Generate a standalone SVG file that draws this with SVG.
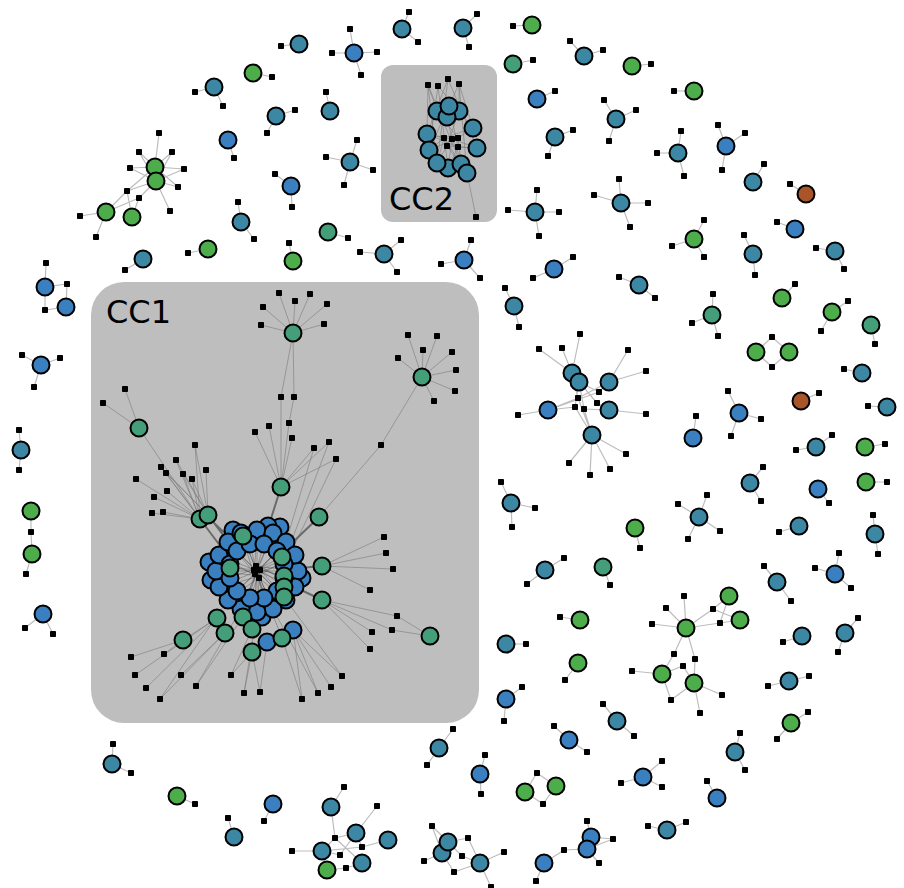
<svg xmlns="http://www.w3.org/2000/svg" xmlns:xlink="http://www.w3.org/1999/xlink" width="904" height="888" viewBox="0 0 904 888">
<style>
circle{stroke:#000;stroke-width:2}
.t{fill:#3c87a3}.b{fill:#3a7fbf}.g{fill:#4cad4a}.gt{fill:#449e79}.o{fill:#a8552a}
.e{fill:none;stroke:#bdbdbd;stroke-width:1.2}
.ei{fill:none;stroke:#7a7a7a;stroke-width:0.6}
.ek{fill:none;stroke:#6a6a6a;stroke-width:2}
.ec{fill:none;stroke:#333;stroke-width:0.35}
.box{fill:#bebebe}
.lbl{font-family:"DejaVu Sans",sans-serif;font-size:32px;fill:#000}
</style>
<defs><rect id="q" x="-3" y="-3" width="6" height="6" rx="0.8" fill="#000"/></defs>
<rect width="904" height="888" fill="#fff"/>
<g id="groups">
<rect class="box" x="91" y="282" width="388" height="441" rx="33"/>
<rect class="box" x="381" y="65" width="116" height="157" rx="12"/>
</g>
<g id="connectors">
<path class="e" d="M299,44L281,46M253,73L272,77M214,87L195,92M214,87L223,106M276,116L295,110M276,116L267,133M228,140L234,158M291,186L275,174M291,186L292,207M241,222L238,202M241,222L254,239"/>
<path class="e" d="M155,167L159,133M155,167L139,152M155,167L172,152M155,167L130,168M155,167L184,169M155,167L178,187M156,181L139,152M156,181L172,152M156,181L130,168M156,181L184,169M156,181L178,187M156,181L170,211M156,181L127,191M156,181L139,198M155,167L127,191M127,191L106,212M139,198L106,212M139,198L132,217M127,191L132,217M106,212L80,216M106,212L96,237"/>
<path class="e" d="M45,287L46,263M45,287L67,284L66,307M45,287L45,310L66,307M143,259L125,270M208,249L188,253M293,261L289,243M41,365L22,355M41,365L60,358M41,365L34,387M21,450L19,430M21,450L19,470M31,511L31,532L32,554L26,574M43,614L25,628M43,614L53,634M112,764L113,744M112,764L131,773M177,796L195,804M234,837L228,818M273,804L264,821"/>
<path class="e" d="M331,807L344,787M331,807L335,838M356,833L377,806M335,838L322,851M335,838L362,863M335,838L356,833M362,847L322,851M362,847L388,840M362,847L356,833M340,855L322,851M340,855L356,833M346,868L327,870M346,868L362,863M292,851L322,851M327,870L322,851"/>
<path class="e" d="M432,826L448,842M432,826L442,853M468,838L448,842M468,838L480,863M424,861L442,853M462,856L448,842M462,856L480,863M454,872L442,853M454,872L480,863M504,852L480,863M491,887L480,863"/>
<path class="e" d="M544,863L536,881M544,863L564,850L587,849M591,837L587,821M587,849L599,863M591,837L613,839M587,849L613,839"/>
<path class="e" d="M439,748L453,729M439,748L427,765M480,774L485,755M480,774L481,794M506,699L522,687M506,699L504,721M525,792L537,773L556,786L543,804L525,792M569,740L554,726M569,740L587,752M578,663L565,680M506,644L526,644M580,620L560,617M545,570L564,558M545,570L527,584M603,567L610,585M511,503L501,482M511,503L535,508M511,503L512,527M635,528L640,548M699,517L678,504M699,517L707,495M699,517L720,531M699,517L688,539M750,483L763,467M750,483L761,501M818,489L829,503M866,482L887,482M799,526L779,532M875,534L873,515M875,534L878,554M777,582L764,566M777,582L791,601M835,574L839,553M835,574L815,568M835,574L851,588"/>
<path class="e" d="M686,628L684,596M686,628L666,608M686,628L652,624M686,628L713,609L729,596M686,628L720,623L740,620M713,609L740,620M720,623L729,596M686,628L674,654L662,674M686,628L695,659L694,683M662,674L632,671M662,674L683,666L694,683M662,674L671,700L694,683M694,683L722,695M694,683L700,713"/>
<path class="e" d="M802,636L783,642M845,633L858,618M845,633L838,652M789,681L768,686M789,681L809,676M791,723L808,712M791,723L777,739M617,721L603,704M617,721L634,736M735,752L740,733M735,752L745,770M643,777L662,761M643,777L621,783M643,777L662,787M717,798L707,781M667,830L648,826M667,830L686,822"/>
<path class="e" d="M693,438L696,416M739,413L728,391M739,413L761,419M739,413L731,436M816,447L796,450M816,447L832,435M865,447L885,444M887,407L868,406M801,401L819,393M862,373L844,369M756,352L772,337L789,352L772,367L756,352M871,325L875,344M832,312L848,301M832,312L821,331M782,298L795,284M712,315L713,294M712,315L692,323M712,315L718,336M639,285L619,277M639,285L655,298M694,239L672,246M694,239L704,257M694,239L704,220M753,254L744,235M753,254L755,275M795,229L777,222M835,251L816,248M835,251L844,269"/>
<path class="e" d="M753,182L764,164M806,194L790,184M726,146L718,125M726,146L745,133M726,146L722,170M678,153L681,131M678,153L657,153M678,153L684,176M616,119L604,100M616,119L636,110M616,119L609,141M621,203L619,179M621,203L648,203M621,203L594,195M621,203L630,227M632,66L651,64M694,91L674,91M584,56L570,41M584,56L603,50M537,99L555,91M555,137L573,130M555,137L548,156M535,212L537,190M535,212L508,210M535,212L559,212M535,212L539,236M532,25L513,26M513,64L533,60M463,28L477,14M463,28L469,47M402,29L409,12M402,29L418,42M354,53L350,29M354,53L332,53M354,53L377,52M354,53L361,75M330,111L326,92M350,162L357,140M350,162L326,157M350,162L373,170M350,162L344,185M328,232L348,238M384,254L360,252M384,254L401,240M384,254L397,272M464,260L471,240M464,260L441,264M464,260L480,278M554,269L573,257M554,269L533,278M514,306L505,288M514,306L519,327"/>
<path class="e" d="M572,373L539,349M572,373L562,348M572,373L580,334M548,410L518,415M548,410L578,398M548,410L575,407M548,410L599,392M572,373L578,398M579,382L575,407M579,382L584,409M579,382L597,403M579,382L599,392M609,382L578,398M609,382L599,392M609,410L597,403M609,410L584,409M609,382L628,350M609,382L646,371M609,410L646,414M592,435L575,407M592,435L584,409M592,435L578,398M592,435L569,463M592,435L590,475M592,435L610,469M592,435L626,454"/>
<path class="ei" d="M428,85L427,134M428,85L437,163M428,85L461,164M438,86L429,150M438,86L448,168M438,86L473,128M448,79L437,163M448,79L477,148M448,79L427,134M459,84L467,173M459,84L429,150M459,84L473,128M428,85L437,111M459,84L459,111M444,138L427,134M444,138L429,150M444,138L437,163M444,138L473,128M452,139L447,117M452,139L448,168M452,139L477,148M452,139L427,134M458,138L473,128M458,138L461,164M458,138L429,150M458,138L437,111M447,146L437,163M447,146L467,173M447,146L477,148M447,146L459,111M458,147L448,168M458,147L427,134M458,147L449,106M458,147L477,148M444,138L461,164M452,139L467,173M467,173L476,217"/>
<path class="ei" d="M293,333L279,293M293,333L295,301M293,333L310,294M293,333L327,304M293,333L324,324M293,333L263,307M293,333L261,325M293,333L281,397M293,333L294,397M281,397L281,487M294,397L289,423M281,487L289,423M281,487L269,426M281,487L255,432M281,487L292,438M281,487L314,448M281,487L329,442M281,487L336,459M314,448L286,542M329,442L290,545M336,459L293,548"/>
<path class="ei" d="M422,377L408,335M422,377L437,336M422,377L423,350M422,377L398,358M422,377L452,352M422,377L456,370M422,377L455,391M422,377L434,401M422,377L381,445L319,517"/>
<path class="ei" d="M139,428L125,389M139,428L103,403M139,428L200,519M200,519L195,445M200,519L176,460M200,519L161,467M200,519L166,473M200,519L183,474M208,515L206,470M200,519L192,479M200,519L136,479M200,519L167,491M200,519L154,497M200,519L152,513M200,519L163,512M208,515L195,445M208,515L176,460M208,515L161,467M208,515L183,474M208,515L192,479M208,515L166,473"/>
<path class="ei" d="M322,566L384,537M322,566L386,553M322,566L393,569M322,566L370,590M322,600L397,616M322,600L372,632M322,600L392,630M322,600L370,649M430,636L392,630M430,636L397,616M183,640L131,657M183,640L164,654M183,640L217,618M217,618L135,675M217,618L146,688M225,633L160,699M225,633L181,675M243,617L196,686M252,652L231,675M252,652L244,693M252,652L260,692M293,630L302,699M293,630L318,693M293,630L331,687M293,630L342,676M282,638L302,699M267,642L260,692M252,629L231,675M241,609L196,686M228,600L160,699M273,609L318,693M286,600L342,676M257,612L244,693"/>
<path class="ek" d="M281,487L268,528M319,517L291,544M208,515L229,543M200,519L221,547M322,566L300,568M322,600L299,589M214,523L232,540"/>
<path class="ec" d="M298,571L257,571M295,587L257,571M286,600L257,571M273,609L257,571M257,612L257,571M241,609L257,571M228,600L257,571M219,587L257,571M216,571L257,571M219,555L257,571M228,542L257,571M241,533L257,571M257,530L257,571M273,533L257,571M286,542L257,571M295,555L257,571M298,571L255,566M295,587L260,566M286,600L254,574M273,609L255,566M257,612L260,566M241,609L260,566M228,600L261,576M219,587L261,576M216,571L261,576M219,555L260,578M228,542L259,578M241,533L255,578M257,530L254,578M273,533L254,576M286,542L253,577M295,555L254,578M284,578L254,566M277,591L253,566M264,598L256,566M250,598L262,566M237,591L262,568M230,578L262,566M230,564L261,577M237,551L262,578M250,544L258,578M264,544L254,578M277,551L253,576M284,564L252,574M243,536L258,575M230,568L262,570M282,557L252,572M284,576L253,568M284,587L254,565M284,597L256,565M270,618L258,578M243,617L257,570M252,629L257,572M282,638L258,577"/>
</g>
<g id="n1"><circle class="t" cx="299" cy="44" r="8.5"/><use href="#q" x="281" y="46"/></g>
<g id="n2"><circle class="g" cx="253" cy="73" r="8.5"/><use href="#q" x="272" y="77"/></g>
<g id="n3"><circle class="t" cx="214" cy="87" r="8.5"/><use href="#q" x="195" y="92"/><use href="#q" x="223" y="106"/></g>
<g id="n4"><circle class="t" cx="276" cy="116" r="8.5"/><use href="#q" x="295" y="110"/><use href="#q" x="267" y="133"/></g>
<g id="n5"><circle class="b" cx="228" cy="140" r="8.5"/><use href="#q" x="234" y="158"/></g>
<g id="n6"><circle class="b" cx="291" cy="186" r="8.5"/><use href="#q" x="275" y="174"/><use href="#q" x="292" y="207"/></g>
<g id="n7"><circle class="t" cx="241" cy="222" r="8.5"/><use href="#q" x="238" y="202"/><use href="#q" x="254" y="239"/></g>
<g id="n8"><use href="#q" x="159" y="133"/><use href="#q" x="139" y="152"/><use href="#q" x="172" y="152"/><use href="#q" x="130" y="168"/><use href="#q" x="184" y="169"/><use href="#q" x="178" y="187"/><use href="#q" x="127" y="191"/><use href="#q" x="139" y="198"/><use href="#q" x="170" y="211"/><use href="#q" x="80" y="216"/><use href="#q" x="96" y="237"/><circle class="g" cx="155" cy="167" r="8.5"/><circle class="g" cx="156" cy="181" r="8.5"/><circle class="g" cx="106" cy="212" r="8.5"/><circle class="g" cx="132" cy="217" r="8.5"/></g>
<g id="n9"><use href="#q" x="46" y="263"/><use href="#q" x="67" y="284"/><use href="#q" x="45" y="310"/><circle class="b" cx="45" cy="287" r="8.5"/><circle class="b" cx="66" cy="307" r="8.5"/></g>
<g id="n10"><circle class="t" cx="143" cy="259" r="8.5"/><use href="#q" x="125" y="270"/></g>
<g id="n11"><circle class="g" cx="208" cy="249" r="8.5"/><use href="#q" x="188" y="253"/></g>
<g id="n12"><circle class="g" cx="293" cy="261" r="8.5"/><use href="#q" x="289" y="243"/></g>
<g id="n13"><circle class="b" cx="41" cy="365" r="8.5"/><use href="#q" x="22" y="355"/><use href="#q" x="60" y="358"/><use href="#q" x="34" y="387"/></g>
<g id="n14"><circle class="t" cx="21" cy="450" r="8.5"/><use href="#q" x="19" y="430"/><use href="#q" x="19" y="470"/></g>
<g id="n15"><circle class="g" cx="31" cy="511" r="8.5"/><circle class="g" cx="32" cy="554" r="8.5"/><use href="#q" x="31" y="532"/><use href="#q" x="26" y="574"/></g>
<g id="n16"><circle class="b" cx="43" cy="614" r="8.5"/><use href="#q" x="25" y="628"/><use href="#q" x="53" y="634"/></g>
<g id="n17"><circle class="t" cx="112" cy="764" r="8.5"/><use href="#q" x="113" y="744"/><use href="#q" x="131" y="773"/></g>
<g id="n18"><circle class="g" cx="177" cy="796" r="8.5"/><use href="#q" x="195" y="804"/></g>
<g id="n19"><circle class="t" cx="234" cy="837" r="8.5"/><use href="#q" x="228" y="818"/></g>
<g id="n20"><circle class="b" cx="273" cy="804" r="8.5"/><use href="#q" x="264" y="821"/></g>
<g id="n21"><use href="#q" x="344" y="787"/><use href="#q" x="377" y="806"/><use href="#q" x="335" y="838"/><use href="#q" x="362" y="847"/><use href="#q" x="340" y="855"/><use href="#q" x="346" y="868"/><use href="#q" x="292" y="851"/><circle class="t" cx="331" cy="807" r="8.5"/><circle class="t" cx="356" cy="833" r="8.5"/><circle class="t" cx="388" cy="840" r="8.5"/><circle class="t" cx="322" cy="851" r="8.5"/><circle class="t" cx="362" cy="863" r="8.5"/><circle class="g" cx="327" cy="870" r="8.5"/></g>
<g id="n22"><use href="#q" x="432" y="826"/><use href="#q" x="468" y="838"/><use href="#q" x="424" y="861"/><use href="#q" x="462" y="856"/><use href="#q" x="454" y="872"/><use href="#q" x="504" y="852"/><use href="#q" x="491" y="887"/><circle class="t" cx="442" cy="853" r="8.5"/><circle class="t" cx="448" cy="842" r="8.5"/><circle class="t" cx="480" cy="863" r="8.5"/></g>
<g id="n23"><use href="#q" x="536" y="881"/><use href="#q" x="564" y="850"/><use href="#q" x="587" y="821"/><use href="#q" x="599" y="863"/><use href="#q" x="613" y="839"/><circle class="b" cx="544" cy="863" r="8.5"/><circle class="b" cx="591" cy="837" r="8.5"/><circle class="b" cx="587" cy="849" r="8.5"/></g>
<g id="n25"><circle class="t" cx="439" cy="748" r="8.5"/><use href="#q" x="453" y="729"/><use href="#q" x="427" y="765"/></g>
<g id="n26"><circle class="b" cx="480" cy="774" r="8.5"/><use href="#q" x="485" y="755"/><use href="#q" x="481" y="794"/></g>
<g id="n27"><circle class="b" cx="506" cy="699" r="8.5"/><use href="#q" x="522" y="687"/><use href="#q" x="504" y="721"/></g>
<g id="n28"><circle class="g" cx="525" cy="792" r="8.5"/><circle class="g" cx="556" cy="786" r="8.5"/><use href="#q" x="537" y="773"/><use href="#q" x="543" y="804"/></g>
<g id="n29"><circle class="b" cx="569" cy="740" r="8.5"/><use href="#q" x="554" y="726"/><use href="#q" x="587" y="752"/></g>
<g id="n30"><circle class="g" cx="578" cy="663" r="8.5"/><use href="#q" x="565" y="680"/></g>
<g id="n31"><circle class="t" cx="506" cy="644" r="8.5"/><use href="#q" x="526" y="644"/></g>
<g id="n32"><circle class="g" cx="580" cy="620" r="8.5"/><use href="#q" x="560" y="617"/></g>
<g id="n33"><circle class="t" cx="545" cy="570" r="8.5"/><use href="#q" x="564" y="558"/><use href="#q" x="527" y="584"/></g>
<g id="n34"><circle class="gt" cx="603" cy="567" r="8.5"/><use href="#q" x="610" y="585"/></g>
<g id="n35"><circle class="t" cx="511" cy="503" r="8.5"/><use href="#q" x="501" y="482"/><use href="#q" x="535" y="508"/><use href="#q" x="512" y="527"/></g>
<g id="n36"><circle class="g" cx="635" cy="528" r="8.5"/><use href="#q" x="640" y="548"/></g>
<g id="n37"><circle class="t" cx="699" cy="517" r="8.5"/><use href="#q" x="678" y="504"/><use href="#q" x="707" y="495"/><use href="#q" x="720" y="531"/><use href="#q" x="688" y="539"/></g>
<g id="n38"><circle class="t" cx="750" cy="483" r="8.5"/><use href="#q" x="763" y="467"/><use href="#q" x="761" y="501"/></g>
<g id="n39"><circle class="b" cx="818" cy="489" r="8.5"/><use href="#q" x="829" y="503"/></g>
<g id="n40"><circle class="g" cx="866" cy="482" r="8.5"/><use href="#q" x="887" y="482"/></g>
<g id="n41"><circle class="t" cx="799" cy="526" r="8.5"/><use href="#q" x="779" y="532"/></g>
<g id="n42"><circle class="t" cx="875" cy="534" r="8.5"/><use href="#q" x="873" y="515"/><use href="#q" x="878" y="554"/></g>
<g id="n43"><circle class="t" cx="777" cy="582" r="8.5"/><use href="#q" x="764" y="566"/><use href="#q" x="791" y="601"/></g>
<g id="n44"><circle class="b" cx="835" cy="574" r="8.5"/><use href="#q" x="839" y="553"/><use href="#q" x="815" y="568"/><use href="#q" x="851" y="588"/></g>
<g id="n45"><use href="#q" x="684" y="596"/><use href="#q" x="666" y="608"/><use href="#q" x="652" y="624"/><use href="#q" x="713" y="609"/><use href="#q" x="720" y="623"/><use href="#q" x="674" y="654"/><use href="#q" x="695" y="659"/><use href="#q" x="632" y="671"/><use href="#q" x="683" y="666"/><use href="#q" x="671" y="700"/><use href="#q" x="722" y="695"/><use href="#q" x="700" y="713"/><circle class="g" cx="686" cy="628" r="8.5"/><circle class="g" cx="729" cy="596" r="8.5"/><circle class="g" cx="740" cy="620" r="8.5"/><circle class="g" cx="662" cy="674" r="8.5"/><circle class="g" cx="694" cy="683" r="8.5"/></g>
<g id="n46"><circle class="t" cx="802" cy="636" r="8.5"/><use href="#q" x="783" y="642"/></g>
<g id="n47"><circle class="t" cx="845" cy="633" r="8.5"/><use href="#q" x="858" y="618"/><use href="#q" x="838" y="652"/></g>
<g id="n48"><circle class="t" cx="789" cy="681" r="8.5"/><use href="#q" x="768" y="686"/><use href="#q" x="809" y="676"/></g>
<g id="n49"><circle class="g" cx="791" cy="723" r="8.5"/><use href="#q" x="808" y="712"/><use href="#q" x="777" y="739"/></g>
<g id="n50"><circle class="t" cx="617" cy="721" r="8.5"/><use href="#q" x="603" y="704"/><use href="#q" x="634" y="736"/></g>
<g id="n51"><circle class="t" cx="735" cy="752" r="8.5"/><use href="#q" x="740" y="733"/><use href="#q" x="745" y="770"/></g>
<g id="n52"><circle class="b" cx="643" cy="777" r="8.5"/><use href="#q" x="662" y="761"/><use href="#q" x="621" y="783"/><use href="#q" x="662" y="787"/></g>
<g id="n53"><circle class="b" cx="717" cy="798" r="8.5"/><use href="#q" x="707" y="781"/></g>
<g id="n54"><circle class="t" cx="667" cy="830" r="8.5"/><use href="#q" x="648" y="826"/><use href="#q" x="686" y="822"/></g>
<g id="n55"><circle class="b" cx="693" cy="438" r="8.5"/><use href="#q" x="696" y="416"/></g>
<g id="n56"><circle class="b" cx="739" cy="413" r="8.5"/><use href="#q" x="728" y="391"/><use href="#q" x="761" y="419"/><use href="#q" x="731" y="436"/></g>
<g id="n57"><circle class="t" cx="816" cy="447" r="8.5"/><use href="#q" x="796" y="450"/><use href="#q" x="832" y="435"/></g>
<g id="n58"><circle class="g" cx="865" cy="447" r="8.5"/><use href="#q" x="885" y="444"/></g>
<g id="n59"><circle class="t" cx="887" cy="407" r="8.5"/><use href="#q" x="868" y="406"/></g>
<g id="n60"><circle class="o" cx="801" cy="401" r="8.5"/><use href="#q" x="819" y="393"/></g>
<g id="n61"><circle class="t" cx="862" cy="373" r="8.5"/><use href="#q" x="844" y="369"/></g>
<g id="n62"><circle class="g" cx="756" cy="352" r="8.5"/><circle class="g" cx="789" cy="352" r="8.5"/><use href="#q" x="772" y="337"/><use href="#q" x="772" y="367"/></g>
<g id="n63"><circle class="gt" cx="871" cy="325" r="8.5"/><use href="#q" x="875" y="344"/></g>
<g id="n64"><circle class="g" cx="832" cy="312" r="8.5"/><use href="#q" x="848" y="301"/><use href="#q" x="821" y="331"/></g>
<g id="n65"><circle class="g" cx="782" cy="298" r="8.5"/><use href="#q" x="795" y="284"/></g>
<g id="n66"><circle class="gt" cx="712" cy="315" r="8.5"/><use href="#q" x="713" y="294"/><use href="#q" x="692" y="323"/><use href="#q" x="718" y="336"/></g>
<g id="n67"><circle class="t" cx="639" cy="285" r="8.5"/><use href="#q" x="619" y="277"/><use href="#q" x="655" y="298"/></g>
<g id="n68"><circle class="g" cx="694" cy="239" r="8.5"/><use href="#q" x="672" y="246"/><use href="#q" x="704" y="257"/><use href="#q" x="704" y="220"/></g>
<g id="n69"><circle class="t" cx="753" cy="254" r="8.5"/><use href="#q" x="744" y="235"/><use href="#q" x="755" y="275"/></g>
<g id="n70"><circle class="b" cx="795" cy="229" r="8.5"/><use href="#q" x="777" y="222"/></g>
<g id="n71"><circle class="t" cx="835" cy="251" r="8.5"/><use href="#q" x="816" y="248"/><use href="#q" x="844" y="269"/></g>
<g id="n72"><circle class="t" cx="753" cy="182" r="8.5"/><use href="#q" x="764" y="164"/></g>
<g id="n73"><circle class="o" cx="806" cy="194" r="8.5"/><use href="#q" x="790" y="184"/></g>
<g id="n74"><circle class="b" cx="726" cy="146" r="8.5"/><use href="#q" x="718" y="125"/><use href="#q" x="745" y="133"/><use href="#q" x="722" y="170"/></g>
<g id="n75"><circle class="t" cx="678" cy="153" r="8.5"/><use href="#q" x="681" y="131"/><use href="#q" x="657" y="153"/><use href="#q" x="684" y="176"/></g>
<g id="n76"><circle class="t" cx="616" cy="119" r="8.5"/><use href="#q" x="604" y="100"/><use href="#q" x="636" y="110"/><use href="#q" x="609" y="141"/></g>
<g id="n77"><circle class="t" cx="621" cy="203" r="8.5"/><use href="#q" x="619" y="179"/><use href="#q" x="648" y="203"/><use href="#q" x="594" y="195"/><use href="#q" x="630" y="227"/></g>
<g id="n78"><circle class="g" cx="632" cy="66" r="8.5"/><use href="#q" x="651" y="64"/></g>
<g id="n79"><circle class="g" cx="694" cy="91" r="8.5"/><use href="#q" x="674" y="91"/></g>
<g id="n80"><circle class="t" cx="584" cy="56" r="8.5"/><use href="#q" x="570" y="41"/><use href="#q" x="603" y="50"/></g>
<g id="n81"><circle class="b" cx="537" cy="99" r="8.5"/><use href="#q" x="555" y="91"/></g>
<g id="n82"><circle class="t" cx="555" cy="137" r="8.5"/><use href="#q" x="573" y="130"/><use href="#q" x="548" y="156"/></g>
<g id="n83"><circle class="t" cx="535" cy="212" r="8.5"/><use href="#q" x="537" y="190"/><use href="#q" x="508" y="210"/><use href="#q" x="559" y="212"/><use href="#q" x="539" y="236"/></g>
<g id="n84"><circle class="g" cx="532" cy="25" r="8.5"/><use href="#q" x="513" y="26"/></g>
<g id="n85"><circle class="gt" cx="513" cy="64" r="8.5"/><use href="#q" x="533" y="60"/></g>
<g id="n86"><circle class="t" cx="463" cy="28" r="8.5"/><use href="#q" x="477" y="14"/><use href="#q" x="469" y="47"/></g>
<g id="n87"><circle class="t" cx="402" cy="29" r="8.5"/><use href="#q" x="409" y="12"/><use href="#q" x="418" y="42"/></g>
<g id="n88"><circle class="b" cx="354" cy="53" r="8.5"/><use href="#q" x="350" y="29"/><use href="#q" x="332" y="53"/><use href="#q" x="377" y="52"/><use href="#q" x="361" y="75"/></g>
<g id="n89"><circle class="t" cx="330" cy="111" r="8.5"/><use href="#q" x="326" y="92"/></g>
<g id="n90"><circle class="t" cx="350" cy="162" r="8.5"/><use href="#q" x="357" y="140"/><use href="#q" x="326" y="157"/><use href="#q" x="373" y="170"/><use href="#q" x="344" y="185"/></g>
<g id="n91"><circle class="gt" cx="328" cy="232" r="8.5"/><use href="#q" x="348" y="238"/></g>
<g id="n92"><circle class="t" cx="384" cy="254" r="8.5"/><use href="#q" x="360" y="252"/><use href="#q" x="401" y="240"/><use href="#q" x="397" y="272"/></g>
<g id="n93"><circle class="b" cx="464" cy="260" r="8.5"/><use href="#q" x="471" y="240"/><use href="#q" x="441" y="264"/><use href="#q" x="480" y="278"/></g>
<g id="n94"><circle class="b" cx="554" cy="269" r="8.5"/><use href="#q" x="573" y="257"/><use href="#q" x="533" y="278"/></g>
<g id="n95"><circle class="t" cx="514" cy="306" r="8.5"/><use href="#q" x="505" y="288"/><use href="#q" x="519" y="327"/></g>
<g id="n96"><use href="#q" x="539" y="349"/><use href="#q" x="562" y="348"/><use href="#q" x="580" y="334"/><use href="#q" x="518" y="415"/><use href="#q" x="578" y="398"/><use href="#q" x="575" y="407"/><use href="#q" x="584" y="409"/><use href="#q" x="597" y="403"/><use href="#q" x="599" y="392"/><use href="#q" x="628" y="350"/><use href="#q" x="646" y="371"/><use href="#q" x="646" y="414"/><use href="#q" x="569" y="463"/><use href="#q" x="590" y="475"/><use href="#q" x="610" y="469"/><use href="#q" x="626" y="454"/><circle class="t" cx="572" cy="373" r="8.5"/><circle class="t" cx="579" cy="382" r="8.5"/><circle class="b" cx="548" cy="410" r="8.5"/><circle class="t" cx="609" cy="382" r="8.5"/><circle class="t" cx="609" cy="410" r="8.5"/><circle class="t" cx="592" cy="435" r="8.5"/></g>
<g id="cc2">
<use href="#q" x="428" y="85"/><use href="#q" x="438" y="86"/><use href="#q" x="448" y="79"/><use href="#q" x="459" y="84"/><use href="#q" x="476" y="217"/>
<circle class="t" cx="437" cy="111" r="8.5"/><circle class="t" cx="459" cy="111" r="8.5"/><circle class="t" cx="447" cy="117" r="8.5"/><circle class="t" cx="449" cy="106" r="8.5"/>
<circle class="t" cx="427" cy="134" r="8.5"/><circle class="t" cx="473" cy="128" r="8.5"/><circle class="t" cx="429" cy="150" r="8.5"/><circle class="t" cx="477" cy="148" r="8.5"/>
<circle class="t" cx="448" cy="168" r="8.5"/><circle class="t" cx="437" cy="163" r="8.5"/><circle class="t" cx="461" cy="164" r="8.5"/><circle class="t" cx="467" cy="173" r="8.5"/>
<use href="#q" x="444" y="138"/><use href="#q" x="452" y="139"/><use href="#q" x="458" y="138"/><use href="#q" x="447" y="146"/><use href="#q" x="458" y="147"/>
</g>
<g id="cc1">
<use href="#q" x="279" y="293"/><use href="#q" x="295" y="301"/><use href="#q" x="310" y="294"/><use href="#q" x="327" y="304"/><use href="#q" x="324" y="324"/><use href="#q" x="263" y="307"/><use href="#q" x="261" y="325"/><use href="#q" x="281" y="397"/><use href="#q" x="294" y="397"/>
<use href="#q" x="289" y="423"/><use href="#q" x="269" y="426"/><use href="#q" x="255" y="432"/><use href="#q" x="292" y="438"/><use href="#q" x="314" y="448"/><use href="#q" x="329" y="442"/><use href="#q" x="336" y="459"/>
<use href="#q" x="408" y="335"/><use href="#q" x="437" y="336"/><use href="#q" x="423" y="350"/><use href="#q" x="398" y="358"/><use href="#q" x="452" y="352"/><use href="#q" x="456" y="370"/><use href="#q" x="455" y="391"/><use href="#q" x="434" y="401"/><use href="#q" x="381" y="445"/>
<use href="#q" x="125" y="389"/><use href="#q" x="103" y="403"/>
<use href="#q" x="195" y="445"/><use href="#q" x="176" y="460"/><use href="#q" x="161" y="467"/><use href="#q" x="166" y="473"/><use href="#q" x="183" y="474"/><use href="#q" x="206" y="470"/><use href="#q" x="192" y="479"/><use href="#q" x="136" y="479"/><use href="#q" x="167" y="491"/><use href="#q" x="154" y="497"/><use href="#q" x="152" y="513"/><use href="#q" x="163" y="512"/>
<use href="#q" x="384" y="537"/><use href="#q" x="386" y="553"/><use href="#q" x="393" y="569"/><use href="#q" x="370" y="590"/><use href="#q" x="397" y="616"/><use href="#q" x="372" y="632"/><use href="#q" x="392" y="630"/><use href="#q" x="370" y="649"/>
<use href="#q" x="131" y="657"/><use href="#q" x="164" y="654"/><use href="#q" x="135" y="675"/><use href="#q" x="146" y="688"/><use href="#q" x="160" y="699"/><use href="#q" x="181" y="675"/><use href="#q" x="196" y="686"/><use href="#q" x="231" y="675"/><use href="#q" x="244" y="693"/><use href="#q" x="260" y="692"/><use href="#q" x="302" y="699"/><use href="#q" x="318" y="693"/><use href="#q" x="331" y="687"/><use href="#q" x="342" y="676"/>
<circle class="gt" cx="293" cy="333" r="8.5"/><circle class="gt" cx="422" cy="377" r="8.5"/><circle class="gt" cx="139" cy="428" r="8.5"/><circle class="gt" cx="281" cy="487" r="8.5"/><circle class="gt" cx="319" cy="517" r="8.5"/>
<circle class="gt" cx="200" cy="519" r="8.5"/><circle class="gt" cx="208" cy="515" r="8.5"/>
<circle class="gt" cx="322" cy="566" r="8.5"/><circle class="gt" cx="322" cy="600" r="8.5"/><circle class="gt" cx="430" cy="636" r="8.5"/>
<circle class="b" cx="233" cy="530" r="8.5"/><circle class="b" cx="280" cy="527" r="8.5"/><circle class="b" cx="209" cy="562" r="8.5"/><circle class="b" cx="211" cy="580" r="8.5"/><circle class="b" cx="302" cy="578" r="8.5"/><circle class="b" cx="262" cy="617" r="8.5"/><circle class="b" cx="244" cy="612" r="8.5"/><circle class="b" cx="268" cy="526" r="8.5"/>
<circle class="b" cx="298" cy="571" r="8.5"/><circle class="b" cx="295" cy="587" r="8.5"/><circle class="b" cx="286" cy="600" r="8.5"/><circle class="b" cx="273" cy="609" r="8.5"/><circle class="b" cx="257" cy="612" r="8.5"/><circle class="b" cx="241" cy="609" r="8.5"/><circle class="b" cx="228" cy="600" r="8.5"/><circle class="b" cx="219" cy="587" r="8.5"/><circle class="b" cx="216" cy="571" r="8.5"/><circle class="b" cx="219" cy="555" r="8.5"/><circle class="b" cx="228" cy="542" r="8.5"/><circle class="b" cx="241" cy="533" r="8.5"/><circle class="b" cx="257" cy="530" r="8.5"/><circle class="b" cx="273" cy="533" r="8.5"/><circle class="b" cx="286" cy="542" r="8.5"/><circle class="b" cx="295" cy="555" r="8.5"/>
<circle class="b" cx="284" cy="578" r="8.5"/><circle class="b" cx="277" cy="591" r="8.5"/><circle class="b" cx="264" cy="598" r="8.5"/><circle class="b" cx="250" cy="598" r="8.5"/><circle class="b" cx="237" cy="591" r="8.5"/><circle class="b" cx="230" cy="578" r="8.5"/><circle class="b" cx="230" cy="564" r="8.5"/><circle class="b" cx="237" cy="551" r="8.5"/><circle class="b" cx="250" cy="544" r="8.5"/><circle class="b" cx="264" cy="544" r="8.5"/><circle class="b" cx="277" cy="551" r="8.5"/><circle class="b" cx="284" cy="564" r="8.5"/>
<circle class="gt" cx="243" cy="536" r="8.5"/><circle class="gt" cx="230" cy="568" r="8.5"/><circle class="gt" cx="282" cy="557" r="8.5"/><circle class="gt" cx="284" cy="576" r="8.5"/><circle class="gt" cx="284" cy="587" r="8.5"/><circle class="gt" cx="284" cy="597" r="8.5"/>
<use href="#q" x="256" y="566"/><use href="#q" x="260" y="570"/><use href="#q" x="255" y="574"/><use href="#q" x="259" y="578"/><use href="#q" x="254" y="570"/>
<circle class="gt" cx="217" cy="618" r="8.5"/><circle class="gt" cx="243" cy="617" r="8.5"/><circle class="gt" cx="225" cy="633" r="8.5"/><circle class="gt" cx="252" cy="629" r="8.5"/><circle class="b" cx="293" cy="630" r="8.5"/><circle class="b" cx="267" cy="642" r="8.5"/><circle class="gt" cx="282" cy="638" r="8.5"/><circle class="gt" cx="252" cy="652" r="8.5"/><circle class="gt" cx="183" cy="640" r="8.5"/>
</g>
<g id="labels">
<text class="lbl" x="106" y="323">CC1</text>
<text class="lbl" x="389" y="210">CC2</text>
</g>
</svg>
